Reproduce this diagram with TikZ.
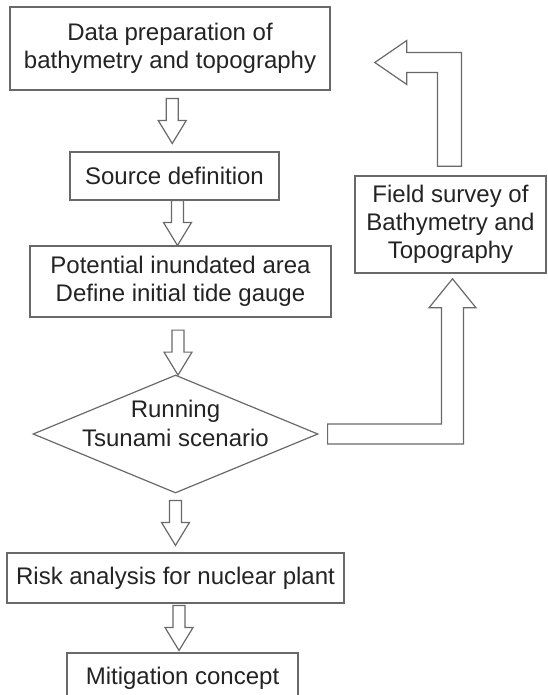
\documentclass[tikz,border=0pt]{standalone}
\usepackage{fontspec}
\setmainfont{Liberation Sans}
\usetikzlibrary{shapes.geometric, calc}
\definecolor{boxgray}{RGB}{105,105,105}
\definecolor{txtgray}{RGB}{35,35,35}
\tikzset{
    stepbox/.style={rectangle, draw=boxgray, line width=0.8pt, align=center, font=\fontsize{12}{14}\selectfont, text=txtgray, inner sep=0pt},
    decision/.style={diamond, draw=boxgray, line width=0.6pt, inner sep=0pt},
    steptext/.style={align=center, font=\fontsize{12}{14.5}\selectfont, text=txtgray, inner sep=0pt},
    blockline/.style={draw=boxgray, line width=0.6pt, fill=white, line join=miter},
}
% hollow block arrow going down between two nodes
\newcommand{\flowarrow}[3][0pt]{%
  \path ($(#2.south)!0.5!(#3.north)$) ++(0,#1) coordinate (fa);
  \draw[blockline] let \p1=(fa) in
    (\x1-3pt,\y1+11.25pt) -- (\x1-3pt,\y1+0.25pt) -- (\x1-7pt,\y1+0.25pt) -- (\x1,\y1-11.25pt)
    -- (\x1+7pt,\y1+0.25pt) -- (\x1+3pt,\y1+0.25pt) -- (\x1+3pt,\y1+11.25pt) -- cycle;
}

\begin{document}
\begin{tikzpicture}[x=0.5pt, y=-0.5pt]
\useasboundingbox (0,0) rectangle (547,695);

% Main column
\node[stepbox, minimum width=160pt, minimum height=41.5pt] (prep) at (170,48.5) {Data preparation of\\bathymetry and topography};
\node[stepbox, minimum width=104.5pt, minimum height=24pt] (src) at (174.5,176) {Source definition};
\node[stepbox, minimum width=150.5pt, minimum height=35.5pt] (pot) at (180.5,281.5) {Potential inundated area\\Define initial tide gauge};
\node[decision, minimum width=142.5pt, minimum height=59pt] (run) at (175.5,434) {};
\node[steptext] (runtext) at ($(run.center)+(0,-11)$) {Running\\Tsunami scenario};
\node[stepbox, minimum width=168.5pt, minimum height=25pt] (risk) at (175.5,578) {Risk analysis for nuclear plant};
\node[stepbox, minimum width=115.5pt, minimum height=25pt] (mit) at (182.5,678) {Mitigation concept};

% Side loop
\node[stepbox, minimum width=95.5pt, minimum height=48.5pt] (survey) at (450.5,224.5) {Field survey of\\Bathymetry and\\Topography};

% Down arrows
\flowarrow{prep}{src}
\flowarrow{src}{pot}
\flowarrow[-3.25pt]{pot}{run}
\flowarrow{run}{risk}
\flowarrow{risk}{mit}

% Scenario -> field survey
\coordinate (aS) at ($(run.east)+(9,0)$);
\coordinate (aT) at ($(survey.south)+(2,5)$);
\draw[blockline] let \p1=(aS), \p2=(aT) in
  (\x1,\y1+5pt) -- (\x2-5.5pt,\y1+5pt) -- (\x2-5.5pt,\y2-14.5pt) -- (\x2-11.75pt,\y2-14.5pt) -- (\x2,\y2)
  -- (\x2+11.75pt,\y2-14.5pt) -- (\x2+5.5pt,\y2-14.5pt) -- (\x2+5.5pt,\y1-5pt) -- (\x1,\y1-5pt) -- cycle;

% Field survey -> data preparation
\coordinate (bS) at ($(survey.north)+(-1,-9)$);
\coordinate (bT) at ($(prep.east)+(44,14)$);
\draw[blockline] let \p1=(bS), \p2=(bT) in
  (\x1-6pt,\y1) -- (\x1-6pt,\y2-5pt) -- (\x2+16pt,\y2-5pt) -- (\x2+16pt,\y2-11pt) -- (\x2,\y2)
  -- (\x2+16pt,\y2+11pt) -- (\x2+16pt,\y2+5pt) -- (\x1+6pt,\y2+5pt) -- (\x1+6pt,\y1) -- cycle;

\end{tikzpicture}
\end{document}
